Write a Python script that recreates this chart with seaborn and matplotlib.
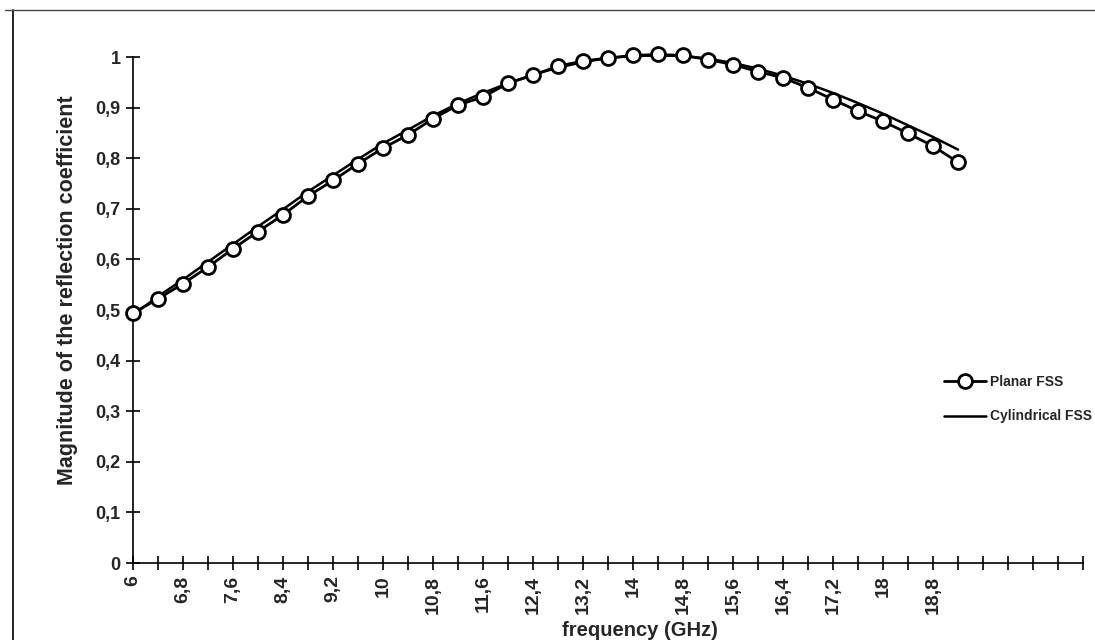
import numpy as np
import pandas as pd
import matplotlib
matplotlib.use("Agg")
import matplotlib.pyplot as plt
from matplotlib.lines import Line2D
import seaborn as sns

# ---- data ----
freq_ghz = [round(6 + 0.4 * i, 1) for i in range(34)]
planar_fss = [0.494, 0.522, 0.552, 0.585, 0.621, 0.655, 0.688, 0.725, 0.756, 0.789,
              0.820, 0.846, 0.878, 0.905, 0.921, 0.948, 0.964, 0.982, 0.992, 0.998,
              1.003, 1.005, 1.003, 0.995, 0.985, 0.971, 0.959, 0.939, 0.916, 0.893,
              0.873, 0.849, 0.824, 0.792]
cylindrical_fss = [0.490, 0.527, 0.560, 0.595, 0.630, 0.665, 0.699, 0.734, 0.766, 0.798,
                   0.829, 0.856, 0.884, 0.908, 0.929, 0.948, 0.965, 0.979, 0.990, 0.998,
                   1.002, 1.003, 1.002, 0.997, 0.988, 0.977, 0.963, 0.947, 0.929, 0.909,
                   0.888, 0.865, 0.842, 0.817]
axis_categories = [round(6 + 0.4 * i, 1) for i in range(39)]
labelled_ticks = [6, 6.8, 7.6, 8.4, 9.2, 10, 10.8, 11.6, 12.4, 13.2, 14, 14.8,
                  15.6, 16.4, 17.2, 18, 18.8]
y_ticks = [0, 0.1, 0.2, 0.3, 0.4, 0.5, 0.6, 0.7, 0.8, 0.9, 1]
series_names = ["Planar FSS", "Cylindrical FSS"]

sns.set_theme(style="white")
plt.rcParams["font.family"] = ["Liberation Sans", "DejaVu Sans"]

W, H = 1095, 640
fig = plt.figure(figsize=(W / 100, H / 100), dpi=100)
ax = fig.add_axes([133 / W, 1 - 563 / H, (1083 - 133) / W, (563 - 57) / H])

df_p = pd.DataFrame({"f": freq_ghz, "v": planar_fss})
df_c = pd.DataFrame({"f": freq_ghz, "v": cylindrical_fss})

sns.lineplot(data=df_c, x="f", y="v", ax=ax, color="black", linewidth=1.8,
             clip_on=False, zorder=3)
sns.lineplot(data=df_p, x="f", y="v", ax=ax, color="black", linewidth=2.0,
             marker="o", markersize=10, markerfacecolor="white",
             markeredgecolor="black", markeredgewidth=2.0, clip_on=False, zorder=4)

ax.set_xlim(axis_categories[0], axis_categories[-1])
ax.set_ylim(0, 1)
ax.set_xticks(axis_categories)
lab = []
for c in axis_categories:
    if any(abs(c - t) < 1e-6 for t in labelled_ticks):
        lab.append(("%g" % c).replace(".", ","))
    else:
        lab.append("")
ax.set_xticklabels(lab, rotation=90, fontsize=14, fontweight="bold")
ax.set_yticks(y_ticks)
ax.set_yticklabels([("%g" % t).replace(".", ",") for t in y_ticks],
                   fontsize=13, fontweight="bold")
ax.tick_params(axis="both", direction="inout", length=10, width=1.2,
               color="black", pad=4, bottom=True, left=True)
ax.set_xlabel("")
ax.set_ylabel("")
for s in ["top", "right"]:
    ax.spines[s].set_visible(False)
for s in ["left", "bottom"]:
    ax.spines[s].set_color("black")
    ax.spines[s].set_linewidth(1.2)
ax.grid(False)

fig.text(640 / W, 1 - 630 / H, "frequency (GHz)", ha="center", va="center",
         fontsize=14.5, fontweight="bold")
fig.text(68 / W, 1 - 290 / H, "Magnitude of the reflection coefficient",
         rotation=90, ha="center", va="center", fontsize=15.5, fontweight="bold")

handles = [
    Line2D([], [], color="black", linewidth=2.0, marker="o", markersize=10,
           markerfacecolor="white", markeredgecolor="black", markeredgewidth=2.0),
    Line2D([], [], color="black", linewidth=1.8),
]
fig.legend(handles, series_names, loc="center right",
           bbox_to_anchor=(1092 / W, 1 - 399 / H), frameon=False,
           prop={"size": 10, "weight": "bold"}, handlelength=3.0,
           handletextpad=0.3, labelspacing=1.5, borderaxespad=0, borderpad=0)

# chart-area border (left and top edges visible)
fig.add_artist(Line2D([13 / W, 13 / W], [0, 1 - 10 / H], color="black",
                      linewidth=1.2, transform=fig.transFigure))
fig.add_artist(Line2D([5 / W, 1], [1 - 10 / H, 1 - 10 / H], color="#444444",
                      linewidth=1.0, transform=fig.transFigure))

fig.savefig("out.png", dpi=100, facecolor="white")
